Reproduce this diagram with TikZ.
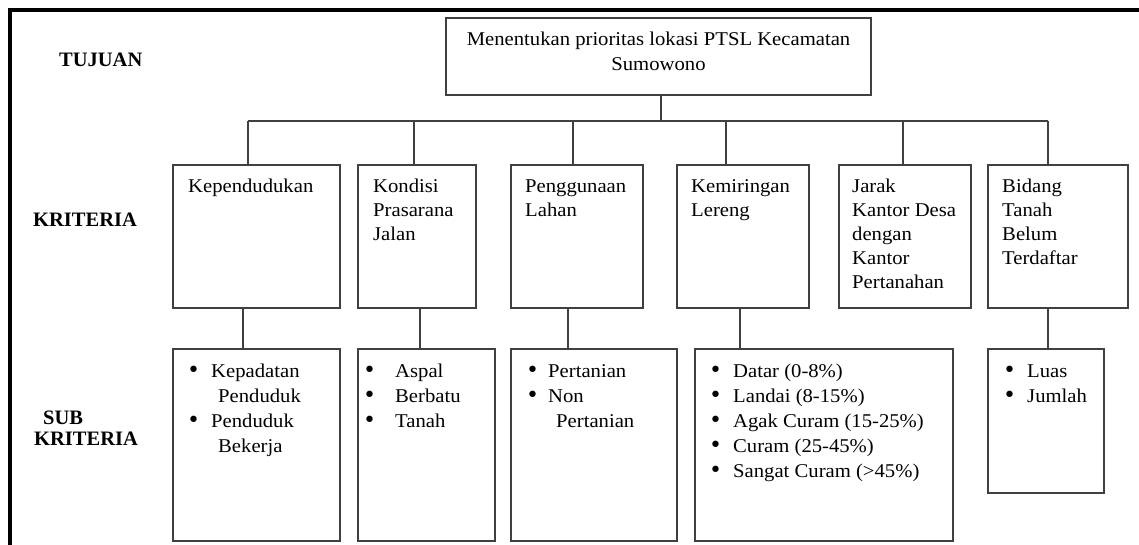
\documentclass[tikz,border=0pt]{standalone}
\usepackage{fontspec}
\setmainfont[FakeStretch=1.06]{Liberation Serif}
\newfontfamily\lblfont{Liberation Serif}
\newfontfamily\bulfont{DejaVu Sans}
\newcommand{\bul}[1]{\makebox[#1][l]{\bulfont\fontsize{22}{25}\selectfont •}}
\begin{document}
\begin{tikzpicture}[x=1pt,y=-1pt,
  bx/.style={draw=black!75, line width=1.3pt, anchor=north west, inner sep=0pt, outer sep=0pt},
  conn/.style={draw=black!75, line width=1.3pt},
  ctext/.style={anchor=north west, inner sep=0pt, align=left, font=\fontsize{19.5}{24}\selectfont},
  stext/.style={anchor=north west, inner sep=0pt, align=left, font=\fontsize{19.5}{25}\selectfont},
  lbl/.style={anchor=base west, inner sep=0pt, font=\lblfont\fontsize{20.5}{21}\selectfont\bfseries}]
\useasboundingbox (0,0) rectangle (1139,545);
% outer frame (top and left)
\draw[line width=3.5pt, black] (10,548) -- (10,10) -- (1142,10);
% labels
\node[lbl] (l1) at (59,67) {TUJUAN};
\node[lbl] (l2) at (33,226) {KRITERIA};
\node[lbl] (l3) at (43,424) {SUB};
\node[lbl] (l4) at (34,445) {KRITERIA};
% top box
\node[bx, minimum width=425pt, minimum height=77pt] (top) at (446,18) {};
\node[anchor=north, inner sep=0pt, align=center, font=\fontsize{19.5}{25}\selectfont] (topt) at (658.5,27.5) {\strut Menentukan prioritas lokasi PTSL Kecamatan\\Sumowono};
% criteria boxes
\node[bx, minimum width=167pt, minimum height=143pt] (c1) at (173,165) {};
\node[bx, minimum width=118pt, minimum height=143pt] (c2) at (358,165) {};
\node[bx, minimum width=132pt, minimum height=143pt] (c3) at (511,165) {};
\node[bx, minimum width=132pt, minimum height=143pt] (c4) at (677,165) {};
\node[bx, minimum width=132pt, minimum height=143pt] (c5) at (839,165) {};
\node[bx, minimum width=140pt, minimum height=143pt] (c6) at (988,165) {};
\node[ctext] (c1t) at (188,175.2) {\strut Kependudukan};
\node[ctext] (c2t) at (373,175.2) {\strut Kondisi\\Prasarana\\Jalan};
\node[ctext] (c3t) at (525,175.2) {\strut Penggunaan\\Lahan};
\node[ctext] (c4t) at (691,175.2) {\strut Kemiringan\\Lereng};
\node[ctext] (c5t) at (852,175.2) {\strut Jarak\\Kantor Desa\\dengan\\Kantor\\Pertanahan};
\node[ctext] (c6t) at (1002,175.2) {\strut Bidang\\Tanah\\Belum\\Terdaftar};
% sub criteria boxes
\node[bx, minimum width=167pt, minimum height=192pt] (s1) at (173,349) {};
\node[bx, minimum width=137pt, minimum height=192pt] (s2) at (358,349) {};
\node[bx, minimum width=166pt, minimum height=192pt] (s3) at (511,349) {};
\node[bx, minimum width=258pt, minimum height=192pt] (s4) at (695,349) {};
\node[bx, minimum width=116pt, minimum height=144pt] (s6) at (988,349) {};
\node[stext] (s1t) at (187,359.5) {\strut\bul{24pt}Kepadatan\\\hspace*{31pt}Penduduk\\\bul{24pt}Penduduk\\\hspace*{31pt}Bekerja};
\node[stext] (s2t) at (363,359.5) {\strut\bul{32pt}Aspal\\\bul{32pt}Berbatu\\\bul{32pt}Tanah};
\node[stext] (s3t) at (526,359.5) {\strut\bul{22pt}Pertanian\\\bul{22pt}Non\\\hspace*{30pt}Pertanian};
\node[stext] (s4t) at (709,359.5) {\strut\bul{24pt}Datar (0-8\%)\\\bul{24pt}Landai (8-15\%)\\\bul{24pt}Agak Curam (15-25\%)\\\bul{24pt}Curam (25-45\%)\\\bul{24pt}Sangat Curam (>45\%)};
\node[stext] (s6t) at (1003,359.5) {\strut\bul{24pt}Luas\\\bul{24pt}Jumlah};
% connectors: top to bus
\coordinate (bL) at (248,121);
\coordinate (bR) at (1048,121);
\coordinate (bT) at (661,121);
\draw[conn] (bT |- top.south) -- (bT);
\draw[conn] (bL) -- (bR);
\coordinate (k2) at (414,121);
\coordinate (k3) at (573,121);
\coordinate (k4) at (726,121);
\coordinate (k5) at (903,121);
\draw[conn] (bL) -- (bL |- c1.north);
\draw[conn] (k2) -- (k2 |- c2.north);
\draw[conn] (k3) -- (k3 |- c3.north);
\draw[conn] (k4) -- (k4 |- c4.north);
\draw[conn] (k5) -- (k5 |- c5.north);
\draw[conn] (bR) -- (bR |- c6.north);
% criteria to sub criteria
\coordinate (d1) at (243,0);
\coordinate (d2) at (420,0);
\coordinate (d3) at (568,0);
\coordinate (d4) at (740,0);
\coordinate (d6) at (1048,0);
\draw[conn] (d1 |- c1.south) -- (d1 |- s1.north);
\draw[conn] (d2 |- c2.south) -- (d2 |- s2.north);
\draw[conn] (d3 |- c3.south) -- (d3 |- s3.north);
\draw[conn] (d4 |- c4.south) -- (d4 |- s4.north);
\draw[conn] (d6 |- c6.south) -- (d6 |- s6.north);
\end{tikzpicture}
\end{document}
